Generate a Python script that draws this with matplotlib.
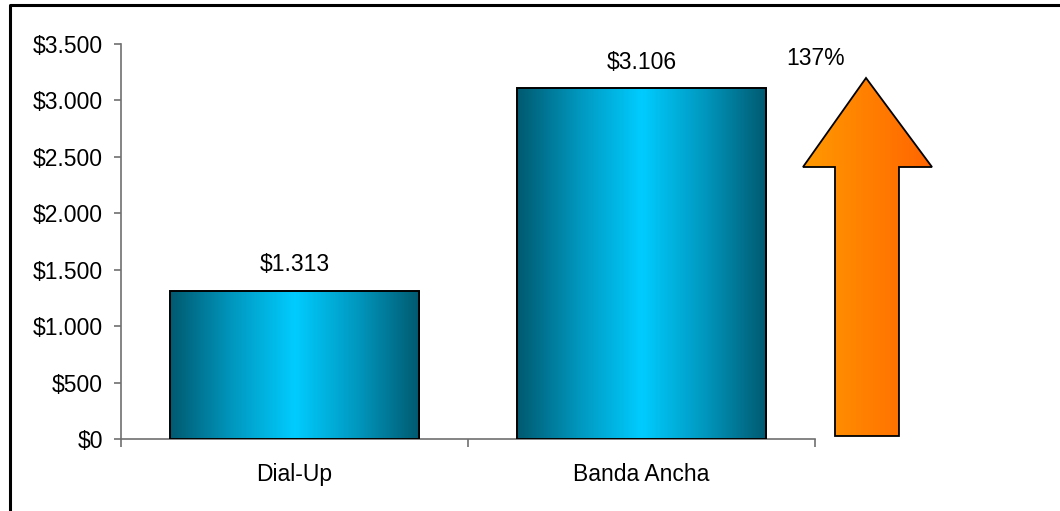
import matplotlib
matplotlib.use("Agg")
import matplotlib.pyplot as plt
import numpy as np
from matplotlib.colors import LinearSegmentedColormap
from matplotlib.patches import Polygon
from matplotlib.lines import Line2D
from matplotlib.ticker import FuncFormatter, FixedLocator

# Data
categories = ["Dial-Up", "Banda Ancha"]
values = [1313, 3106]
growth_label = "137%"
y_ticks = [0, 500, 1000, 1500, 2000, 2500, 3000, 3500]

plt.rcParams["font.family"] = ["Liberation Sans", "DejaVu Sans"]
FS = 16.5

W, H = 1060, 511
fig = plt.figure(figsize=(W / 100, H / 100), dpi=100)
fig.patch.set_facecolor("white")

ax_left, ax_right, ax_bottom, ax_top = 121, 815, 439, 44
ax = fig.add_axes([ax_left / W, (H - ax_bottom) / H,
                   (ax_right - ax_left) / W, (ax_bottom - ax_top) / H])

x = np.arange(len(categories))
bar_width = 0.72

teal = LinearSegmentedColormap.from_list(
    "teal", ["#005a70", "#0098bf", "#00ccff", "#0098bf", "#005a70"])
grad = np.linspace(0, 1, 256).reshape(1, -1)

bars = ax.bar(x, values, width=bar_width, facecolor="none",
              edgecolor="black", linewidth=1.4, zorder=3)
for rect, v in zip(bars, values):
    x0 = rect.get_x()
    im = ax.imshow(grad, cmap=teal, aspect="auto",
                   extent=(x0, x0 + rect.get_width(), 0, rect.get_height()),
                   zorder=2, interpolation="bicubic")
    im.set_clip_path(rect)
    ax.annotate("$" + f"{v:,}".replace(",", "."),
                (rect.get_x() + rect.get_width() / 2, v),
                xytext=(0, 19), textcoords="offset points",
                ha="center", va="center", fontsize=FS)
ax.set_xlim(-0.5, len(categories) - 0.5)
ax.set_ylim(0, 3500)

# Axis styling
for side in ("top", "right"):
    ax.spines[side].set_visible(False)
for side in ("left", "bottom"):
    ax.spines[side].set_color("#707070")
    ax.spines[side].set_linewidth(1.2)

ax.yaxis.set_major_locator(FixedLocator(y_ticks))
ax.yaxis.set_major_formatter(FuncFormatter(
    lambda v, p: "$" + f"{int(v):,}".replace(",", ".")))
ax.tick_params(axis="y", direction="out", length=5, width=1.2,
               color="#707070", pad=8, labelsize=FS)

ax.set_xticks(np.arange(len(categories) + 1) - 0.5)
ax.set_xticklabels([])
ax.set_xticks(x, minor=True)
ax.set_xticklabels(categories, minor=True)
ax.tick_params(axis="x", which="major", direction="out", length=6,
               width=1.2, color="#707070")
ax.tick_params(axis="x", which="minor", length=0, pad=17, labelsize=FS)

# Growth arrow: geometry given as fractions of the main axes box
arrow_pts = np.array([(1.0735, 0.914), (1.1686, 0.6886), (1.1210, 0.6886),
                      (1.1210, 0.0076), (1.0288, 0.0076), (1.0288, 0.6886),
                      (0.9827, 0.6886)])
pos = ax.get_position()
ax0, ax1 = arrow_pts[:, 0].min(), arrow_pts[:, 0].max()
ay0, ay1 = arrow_pts[:, 1].min(), arrow_pts[:, 1].max()
arrow_ax = fig.add_axes([pos.x0 + ax0 * pos.width, pos.y0 + ay0 * pos.height,
                         (ax1 - ax0) * pos.width, (ay1 - ay0) * pos.height])
arrow_ax.set_axis_off()
norm_pts = np.column_stack([(arrow_pts[:, 0] - ax0) / (ax1 - ax0),
                            (arrow_pts[:, 1] - ay0) / (ay1 - ay0)])
arrow = Polygon(norm_pts, closed=True, facecolor="none", edgecolor="black",
                linewidth=1.3, clip_on=False, zorder=5)
arrow_ax.add_patch(arrow)
orange = LinearSegmentedColormap.from_list("orange", ["#ff9a00", "#ff6400"])
im2 = arrow_ax.imshow(grad, cmap=orange, aspect="auto",
                      extent=(0, 1, 0, 1), zorder=4)
im2.set_clip_path(arrow)
arrow_ax.set_xlim(0, 1)
arrow_ax.set_ylim(0, 1)

ax.text(1.0014, 0.963, growth_label, transform=ax.transAxes,
        ha="center", va="center", fontsize=FS)

# Frame lines along the top and left edge
bx, by = 9.5 / W, 1 - 5.5 / H
fig.add_artist(Line2D([bx, bx, 1.0], [0.0, by, by], transform=fig.transFigure,
                      color="black", linewidth=2.2))

fig.savefig("out.png", dpi=100, facecolor="white")
